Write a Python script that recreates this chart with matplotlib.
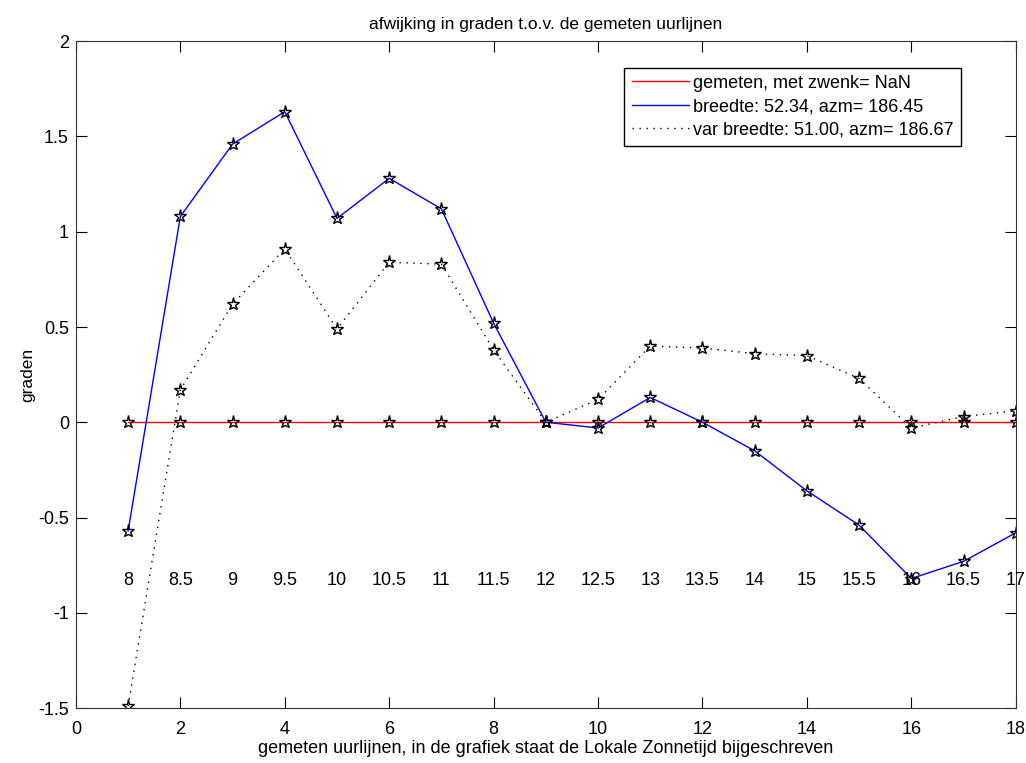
import numpy as np
import matplotlib
matplotlib.use('Agg')
import matplotlib.pyplot as plt

plt.rcParams['font.family'] = ['Liberation Sans', 'DejaVu Sans']
plt.rcParams['font.size'] = 13

# uurlijn nummer en bijbehorende lokale zonnetijd
uurlijn = np.arange(1, 19)
zonnetijd = ['8', '8.5', '9', '9.5', '10', '10.5', '11', '11.5', '12', '12.5',
             '13', '13.5', '14', '15', '15.5', '16', '16.5', '17']

gemeten = [0]*18
breedte = [-0.57, 1.08, 1.46, 1.63, 1.07, 1.28, 1.12, 0.52, 0.0, -0.03,
           0.13, 0.0, -0.15, -0.36, -0.54, -0.82, -0.73, -0.58]
var_breedte = [-1.49, 0.17, 0.62, 0.91, 0.49, 0.84, 0.83, 0.38, 0.0, 0.12,
               0.40, 0.39, 0.36, 0.35, 0.23, -0.03, 0.03, 0.06]
label_y = -0.83

fig = plt.figure(figsize=(10.26, 7.63), dpi=100)
ax = fig.add_axes([0.074, 0.072, 0.916, 0.874])

ax.plot(uurlijn, gemeten, color='red', lw=1, label='gemeten, met zwenk= NaN')
ax.plot(uurlijn, breedte, color='blue', lw=1, label='breedte: 52.34, azm= 186.45')
ax.plot(uurlijn, var_breedte, color='black', lw=1, ls=(0, (1, 4)),
        label='var breedte: 51.00, azm= 186.67')

for y in [gemeten, breedte, var_breedte]:
    ax.plot(uurlijn, y, ls='none', marker='*', ms=9.5, mfc='none', mec='k', mew=1)

for x, t in zip(uurlijn, zonnetijd):
    ax.text(x, label_y, t, ha='center', va='center', fontsize=13)

ax.set_xlim(0, 18)
ax.set_ylim(-1.5, 2)
ax.set_xticks(np.arange(0, 19, 2))
ax.set_yticks(np.arange(-1.5, 2.01, 0.5))
ax.set_yticklabels(['-1.5', '-1', '-0.5', '0', '0.5', '1', '1.5', '2'])
ax.tick_params(direction='in', top=True, right=True, length=8, labelsize=13, pad=5)
ax.tick_params(axis='x', pad=9)
for s in ax.spines.values():
    s.set_color('#333333')

ax.set_title('afwijking in graden t.o.v. de gemeten uurlijnen', fontsize=12.5, pad=9)
ax.set_xlabel('gemeten uurlijnen, in de grafiek staat de Lokale Zonnetijd bijgeschreven', fontsize=13, labelpad=2)
ax.set_ylabel('graden', fontsize=12.5, labelpad=2)

leg = ax.legend(loc='upper right', bbox_to_anchor=(0.951, 0.974), fancybox=False,
                edgecolor='k', framealpha=1, fontsize=13, handlelength=3.2,
                handletextpad=0.2, borderpad=0.4, labelspacing=0.35)
leg.get_frame().set_linewidth(1)

plt.savefig('out.png', dpi=100)
